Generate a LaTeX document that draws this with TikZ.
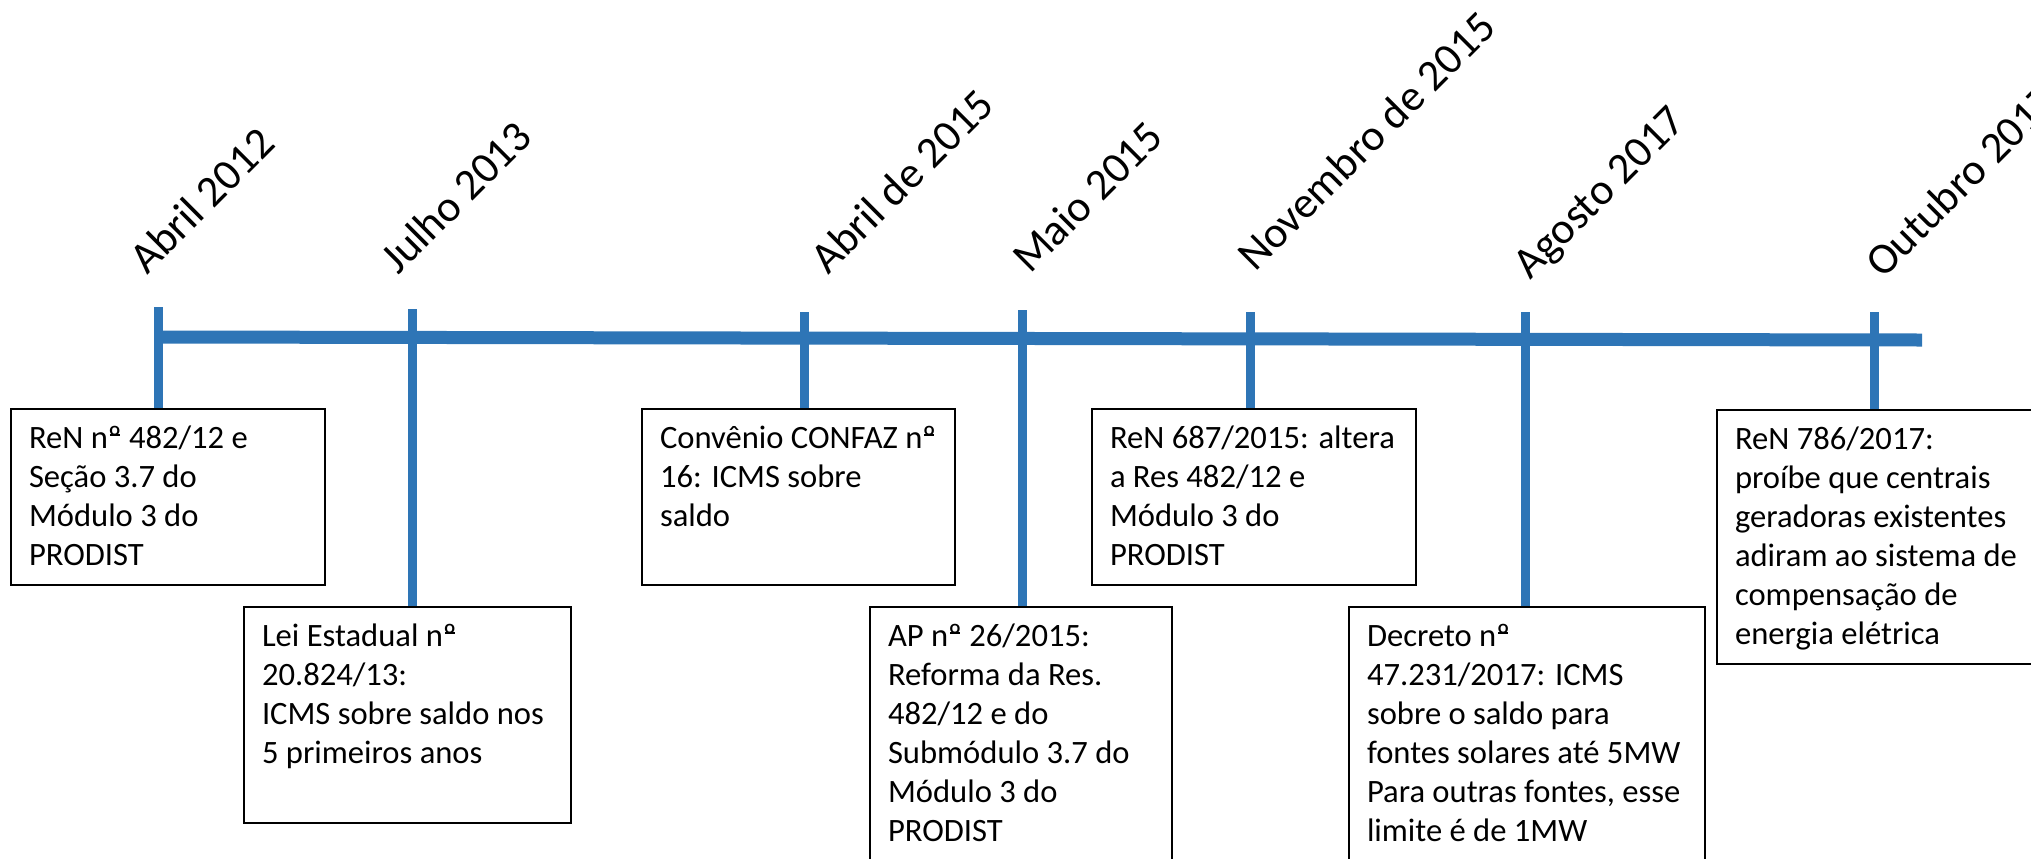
\documentclass[tikz,border=0pt]{standalone}
\usepackage{fontspec}
\setmainfont{Carlito}
\definecolor{tlblue}{HTML}{2E75B6}
\newcommand\evbody[3]{\vbox to #2{\hsize=#1\relax\parindent=0pt\raggedright\rule{0pt}{19.5pt}#3\par\vfil}}
\newcommand\nro{\ooalign{º\cr\hidewidth\rule[0.36em]{0.3em}{0.055em}\hidewidth\cr}}
\tikzset{
  tickline/.style={draw=tlblue, line width=4.5pt},
  mainline/.style={draw=tlblue, line width=6.5pt},
  evbox/.style={draw=black, line width=1pt, inner xsep=9pt, inner ysep=0pt, anchor=north west, font=\fontsize{16.3}{19.5}\selectfont},
  datelabel/.style={rotate=45, anchor=base west, inner sep=0pt, font=\fontsize{22}{26}\selectfont}
}
\begin{document}
\begin{tikzpicture}[x=0.5pt, y=0.5pt]
\useasboundingbox (0,0) rectangle (2031,-858);
\clip (0,0) rectangle (2031,-858);

% date labels
\node[datelabel] (d1) at (147,-276) {Abril 2012};
\node[datelabel] (d2) at (398,-276) {Julho 2013};
\node[datelabel] (d3) at (828,-276) {Abril de 2015};
\node[datelabel] (d4) at (1030,-275) {Maio 2015};
\node[datelabel] (d5) at (1255,-273) {Novembro de 2015};
\node[datelabel] (d6) at (1530,-281) {Agosto 2017};
\node[datelabel] (d7) at (1883,-280) {Outubro 2017};

% event boxes
\node[evbox] (b1) at (10,-408) {\evbody{139pt}{88pt}{ReN n\nro{} 482/12 e\\Seção 3.7 do\\Módulo 3 do\\PRODIST}};
\node[evbox] (b2) at (243,-606) {\evbody{145.5pt}{108pt}{Lei Estadual n\nro\\20.824/13:\\ICMS sobre saldo nos\\5 primeiros anos}};
\node[evbox] (b3) at (641,-408) {\evbody{138.5pt}{88pt}{Convênio CONFAZ n\nro\\16: ICMS sobre\\saldo}};
\node[evbox] (b4) at (869,-606) {\evbody{133pt}{150pt}{AP n\nro{} 26/2015:\\Reforma da Res.\\482/12 e do\\Submódulo 3.7 do\\Módulo 3 do\\PRODIST}};
\node[evbox] (b5) at (1091,-408) {\evbody{144pt}{88pt}{ReN 687/2015: altera\\a Res 482/12 e\\Módulo 3 do\\PRODIST}};
\node[evbox] (b6) at (1348,-606) {\evbody{160pt}{150pt}{Decreto n\nro\\47.231/2017: ICMS\\sobre o saldo para\\fontes solares até 5MW\\Para outras fontes, esse\\limite é de 1MW}};
\node[evbox] (b7) at (1716,-409) {\evbody{154pt}{127pt}{ReN 786/2017:\\proíbe que centrais\\geradoras existentes\\adiram ao sistema de\\compensação de\\energia elétrica}};

% main timeline
\coordinate (ml0) at (158,-337);
\coordinate (ml1) at (1922,-340);
\draw[mainline] (ml0) -- (ml1);

% ticks
\coordinate (t1) at (158,-307);
\coordinate (t2) at (412,-309);
\coordinate (t3) at (804,-312);
\coordinate (t4) at (1022,-310);
\coordinate (t5) at (1250,-312);
\coordinate (t6) at (1525,-312);
\coordinate (t7) at (1874,-312);
\draw[tickline] (t1) -- (t1 |- b1.north);
\draw[tickline] (t2) -- (t2 |- b2.north);
\draw[tickline] (t3) -- (t3 |- b3.north);
\draw[tickline] (t4) -- (t4 |- b4.north);
\draw[tickline] (t5) -- (t5 |- b5.north);
\draw[tickline] (t6) -- (t6 |- b6.north);
\draw[tickline] (t7) -- (t7 |- b7.north);
\end{tikzpicture}
\end{document}
